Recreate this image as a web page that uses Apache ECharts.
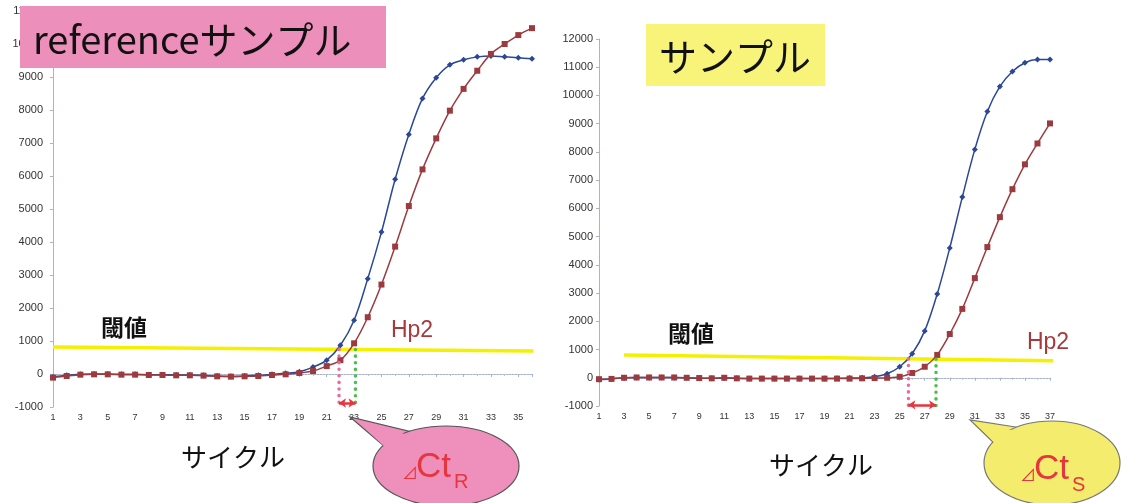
<!DOCTYPE html>
<html>
<head>
<meta charset="utf-8">
<script src="https://cdn.jsdelivr.net/npm/echarts@6/dist/echarts.min.js"></script>
<style>
  html, body { margin: 0; padding: 0; background: #ffffff; }
  #chart { width: 1127px; height: 503px; }
</style>
</head>
<body>
<div id="chart"></div>
<script>
// ---- reference sample (left panel): cycles 1..36 ----
const refCycles = [1,2,3,4,5,6,7,8,9,10,11,12,13,14,15,16,17,18,19,20,21,22,23,24,25,26,27,28,29,30,31,32,33,34,35,36];
const refBlue = [-90,-40,-10,0,0,-10,-10,-20,-20,-30,-30,-40,-60,-70,-60,-40,-10,20,70,210,420,870,1630,2890,4300,5900,7260,8350,8980,9370,9520,9610,9640,9610,9580,9550];
const refRed  = [-110,-60,-20,-10,-10,-20,-20,-30,-30,-40,-40,-50,-70,-80,-70,-60,-30,-10,30,90,240,420,930,1720,2710,3860,5090,6200,7140,7980,8640,9190,9700,10000,10270,10480];
const refThreshold = [[1, 815], [36.1, 700]];
const refCt = [21.9, 23.1];            // blue / Hp2 threshold crossings

// ---- sample (right panel): cycles 1..37 ----
const smpCycles = [1,2,3,4,5,6,7,8,9,10,11,12,13,14,15,16,17,18,19,20,21,22,23,24,25,26,27,28,29,30,31,32,33,34,35,36,37];
const smpBlue = [-60,-40,0,10,10,10,10,0,-20,-20,-10,-20,-30,-30,-30,-30,-30,-30,-30,-20,-10,0,35,140,390,850,1660,2970,4600,6400,8090,9430,10320,10850,11160,11270,11270];
const smpRed  = [-50,-40,0,10,10,10,10,0,-10,-20,0,-20,-30,-30,-30,-30,-30,-30,-30,-30,-30,-20,-10,0,35,170,390,810,1550,2440,3530,4630,5690,6680,7560,8300,9010];
const smpThreshold = [[3, 810], [42.7, 565]];
const smpCt = [25.7, 27.9];

// axis ranges / ticks
const refY = { min: -1000, max: 11000, step: 1000 };
const smpY = { min: -1000, max: 12000, step: 1000 };
const refX = { min: 1, max: 36, step: 2 };
const smpX = { min: 1, max: 37, step: 2 };

const BLUE = '#2b4796';
const RED = '#9c3b3f';
const YELLOW = '#f3f000';
const PINK_DOT = '#ea6aa0';
const GREEN_DOT = '#4cbf48';
const ARROW_RED = '#e6353c';
const JP = '"Noto Sans CJK JP", "Noto Sans", sans-serif';
const LAT = '"Liberation Sans", Arial, sans-serif';

const pairs = (xs, ys) => xs.map((x, i) => [x, ys[i]]);
// value of a straight threshold line at cycle c
const thrAt = (thr, c) => {
  const [[x0, y0], [x1, y1]] = thr;
  return y0 + (y1 - y0) * (c - x0) / (x1 - x0);
};

function xAxisOf(gi, r) {
  return {
    type: 'value', gridIndex: gi, min: r.min, max: r.max, interval: r.step,
    axisLine: { show: true, lineStyle: { color: '#a9b3cf', width: 1, type: [2, 1] } },
    axisTick: { show: true, length: 3, lineStyle: { color: '#a9b3cf' } },
    minorTick: { show: true, splitNumber: 2, length: 2, lineStyle: { color: '#b8c0d8' } },
    axisLabel: {
      color: '#333', fontSize: 9, fontFamily: LAT, margin: 6,
      showMaxLabel: (r.max - r.min) % r.step === 0
    },
    splitLine: { show: false }
  };
}
function yAxisOf(gi, r, margin) {
  return {
    type: 'value', gridIndex: gi, min: r.min, max: r.max, interval: r.step,
    axisLine: { show: true, lineStyle: { color: '#a9b3cf', width: 1 } },
    axisTick: { show: true, length: 3, lineStyle: { color: '#a9b3cf' } },
    axisLabel: { color: '#333', fontSize: 11, fontFamily: LAT, margin: margin, formatter: v => String(v) },
    splitLine: { show: false }
  };
}

function curve(gi, data, color, symbol, size) {
  return {
    type: 'line', xAxisIndex: gi, yAxisIndex: gi, data: data,
    smooth: 0.35, symbol: symbol, symbolSize: size, z: 3,
    lineStyle: { color: color, width: 1.5 },
    itemStyle: { color: color }
  };
}
function thresholdSeries(gi, thr) {
  return {
    type: 'line', xAxisIndex: gi, yAxisIndex: gi, data: thr, clip: false,
    symbol: 'none', z: 2, lineStyle: { color: YELLOW, width: 3.5 }
  };
}
function dropLine(gi, c, thr, yMin, color) {
  return {
    type: 'line', xAxisIndex: gi, yAxisIndex: gi, symbol: 'none', z: 4,
    data: [[c, thrAt(thr, c)], [c, yMin]],
    lineStyle: { color: color, width: 3.5, type: [0.1, 6.5], cap: 'round' }
  };
}
function ctArrow(gi, ct, yv) {
  return {
    type: 'line', xAxisIndex: gi, yAxisIndex: gi, data: [], z: 5,
    markLine: {
      silent: true, symbol: ['arrow', 'arrow'], symbolSize: [7, 7],
      label: { show: false },
      lineStyle: { color: ARROW_RED, width: 2.5, type: 'solid' },
      data: [[{ coord: [ct[0], yv] }, { coord: [ct[1], yv] }]]
    }
  };
}

function label(x, y, s, size, color, extra) {
  return {
    type: 'text', x: x, y: y, z: 50,
    style: Object.assign({ text: s, fontSize: size, fill: color, fontFamily: JP, align: 'center', verticalAlign: 'middle' }, extra || {})
  };
}
function bubble(cx, cy, rx, ry, tail, fill, stroke) {
  return [
    { type: 'polygon', z: 40, shape: { points: tail }, style: { fill: fill, stroke: stroke, lineWidth: 1.2 } },
    { type: 'ellipse', z: 41, shape: { cx: cx, cy: cy, rx: rx, ry: ry }, style: { fill: fill, stroke: stroke, lineWidth: 1.2 } },
    { type: 'polygon', z: 42, shape: { points: [[tail[0][0] + 3, tail[0][1] + 3], [tail[1][0] + 8, tail[1][1] + 5], [tail[2][0] - 3, tail[2][1] + 3], [cx, cy]] }, style: { fill: fill } }
  ];
}

const chart = echarts.init(document.getElementById('chart'), null, { renderer: 'canvas' });
chart.setOption({
  animation: false,
  backgroundColor: '#ffffff',
  grid: [
    { left: 53, right: 595, top: 11, bottom: 96 },
    { left: 599, right: 77, top: 39, bottom: 97 }
  ],
  xAxis: [xAxisOf(0, refX), xAxisOf(1, smpX)],
  yAxis: [yAxisOf(0, refY, 10), yAxisOf(1, smpY, 6)],
  series: [
    thresholdSeries(0, refThreshold),
    curve(0, pairs(refCycles, refBlue), BLUE, 'diamond', 6),
    curve(0, pairs(refCycles, refRed), RED, 'rect', 6),
    dropLine(0, refCt[0], refThreshold, refY.min, PINK_DOT),
    dropLine(0, refCt[1], refThreshold, refY.min, GREEN_DOT),
    ctArrow(0, refCt, -880),

    thresholdSeries(1, smpThreshold),
    curve(1, pairs(smpCycles, smpBlue), BLUE, 'diamond', 6),
    curve(1, pairs(smpCycles, smpRed), RED, 'rect', 6),
    dropLine(1, smpCt[0], smpThreshold, smpY.min, PINK_DOT),
    dropLine(1, smpCt[1], smpThreshold, smpY.min, GREEN_DOT),
    ctArrow(1, smpCt, -960)
  ],
  graphic: [
    // panel titles
    { type: 'rect', z: 30, shape: { x: 20, y: 6, width: 366, height: 62 }, style: { fill: '#ec8fbb' } },
    label(33, 40, 'referenceサンプル', 38, '#111', { align: 'left' }),
    { type: 'rect', z: 30, shape: { x: 646, y: 24, width: 179, height: 62 }, style: { fill: '#f8f47a' } },
    label(735, 57, 'サンプル', 38, '#111'),

    // threshold / target labels
    label(124, 327, '閾値', 23, '#111', { fontWeight: 'bold' }),
    label(691, 333, '閾値', 23, '#111', { fontWeight: 'bold' }),
    label(412, 331, 'Hp2', 23, '#a8383c', { fontFamily: LAT }),
    label(1048, 343, 'Hp2', 23, '#a8383c', { fontFamily: LAT }),

    // axis titles
    label(233, 457, 'サイクル', 26, '#111'),
    label(821, 465, 'サイクル', 26, '#111'),

    // ΔCt call-outs
    ...bubble(446, 466, 73, 40, [[384, 446], [350, 417], [412, 432]], '#ee90bb', '#555555'),
    label(402, 481, '⊿', 16, ARROW_RED, { align: 'left', verticalAlign: 'bottom' }),
    label(416, 485, 'Ct', 35, ARROW_RED, { fontFamily: LAT, align: 'left', verticalAlign: 'bottom' }),
    label(454, 492, 'R', 20, ARROW_RED, { fontFamily: LAT, align: 'left', verticalAlign: 'bottom' }),

    ...bubble(1052, 463, 68, 42, [[996, 445], [970, 420], [1022, 428]], '#f4ec6c', '#777777'),
    label(1020, 483, '⊿', 16, ARROW_RED, { align: 'left', verticalAlign: 'bottom' }),
    label(1034, 487, 'Ct', 35, ARROW_RED, { fontFamily: LAT, align: 'left', verticalAlign: 'bottom' }),
    label(1072, 495, 'S', 20, ARROW_RED, { fontFamily: LAT, align: 'left', verticalAlign: 'bottom' })
  ]
});
</script>
</body>
</html>
